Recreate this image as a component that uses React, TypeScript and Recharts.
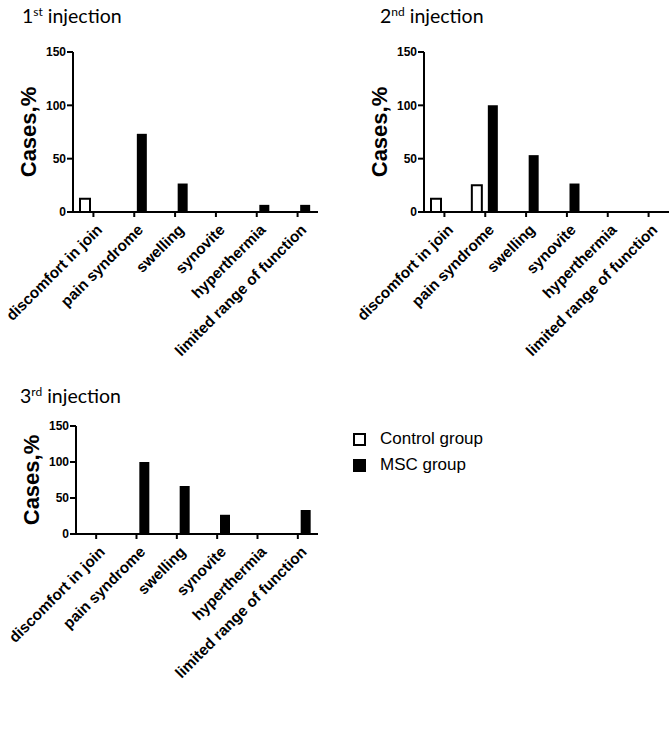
import React from "react";
import { Bar, BarChart, Legend, XAxis, YAxis } from "recharts";

const categories = [
  "discomfort in join",
  "pain syndrome",
  "swelling",
  "synovite",
  "hyperthermia",
  "limited range of function",
];

const control1 = [12.5, 0, 0, 0, 0, 0];
const msc1 = [0, 73.3, 26.7, 0, 6.7, 6.7];

const control2 = [12.5, 25, 0, 0, 0, 0];
const msc2 = [0, 100, 53.3, 26.7, 0, 0];

const control3 = [0, 0, 0, 0, 0, 0];
const msc3 = [0, 100, 66.7, 26.7, 0, 33.3];

const yTicks = [0, 50, 100, 150];

const AXIS_FONT = "Liberation Sans, Arial, sans-serif";
const TITLE_FONT = "Lato, Open Sans, sans-serif";

function rows(control: number[], msc: number[]) {
  return categories.map((name, i) => ({ name, control: control[i], msc: msc[i] }));
}

function SlantTick({ x, y, payload }: any) {
  return (
    <g transform={`translate(${x + 6},${y + 8})`}>
      <text
        transform="rotate(-45)"
        textAnchor="end"
        dy="0.35em"
        style={{ fontFamily: AXIS_FONT, fontWeight: 700, fontSize: 15.3 }}
        fill="#000"
      >
        {payload.value}
      </text>
    </g>
  );
}

function YTitle({ viewBox }: any) {
  const cx = viewBox.x + viewBox.width - 45;
  const cy = viewBox.y + viewBox.height / 2;
  return (
    <text
      x={cx}
      y={cy}
      transform={`rotate(-90 ${cx} ${cy})`}
      textAnchor="middle"
      dominantBaseline="central"
      style={{ fontFamily: AXIS_FONT, fontWeight: 700, fontSize: 22 }}
      fill="#000"
    >
      Cases,%
    </text>
  );
}

function GroupLegend() {
  const items = [
    { label: "Control group", fill: "#fff" },
    { label: "MSC group", fill: "#000" },
  ];
  return (
    <div style={{ fontFamily: AXIS_FONT, fontSize: 17, color: "#000" }}>
      {items.map((it) => (
        <div key={it.label} style={{ display: "flex", alignItems: "center", height: 26 }}>
          <svg width={13} height={13} style={{ marginRight: 14 }}>
            <rect x={1} y={1} width={11} height={11} fill={it.fill} stroke="#000" strokeWidth={2} />
          </svg>
          <span>{it.label}</span>
        </div>
      ))}
    </div>
  );
}

interface PanelProps {
  left: number;
  top: number;
  width: number;
  height: number;
  margin: { top: number; right: number; bottom: number; left: number };
  data: { name: string; control: number; msc: number }[];
  xHeight: number;
  withLegend?: boolean;
}

function Panel({ left, top, width, height, margin, data, xHeight, withLegend }: PanelProps) {
  return (
    <div style={{ position: "absolute", left, top, width, height }}>
      <BarChart width={width} height={height} data={data} margin={margin} barSize={10} barGap={6}>
        <XAxis
          dataKey="name"
          interval={0}
          height={xHeight}
          tick={<SlantTick />}
          tickSize={5}
          tickMargin={2}
          axisLine={{ stroke: "#000", strokeWidth: 2 }}
          tickLine={{ stroke: "#000", strokeWidth: 2 }}
        />
        <YAxis
          width={60}
          domain={[0, 150]}
          ticks={yTicks}
          tickSize={6}
          tickMargin={1}
          axisLine={{ stroke: "#000", strokeWidth: 2 }}
          tickLine={{ stroke: "#000", strokeWidth: 2 }}
          tick={{ fontFamily: AXIS_FONT, fontWeight: 700, fontSize: 12, fill: "#000" }}
          label={<YTitle />}
        />
        {withLegend && (
          <Legend
            content={<GroupLegend />}
            layout="vertical"
            wrapperStyle={{ position: "absolute", left: 353, top: 46, width: 200 }}
          />
        )}
        <Bar dataKey="control" name="Control group" fill="#fff" stroke="#000" strokeWidth={2} isAnimationActive={false} />
        <Bar dataKey="msc" name="MSC group" fill="#000" isAnimationActive={false} />
      </BarChart>
    </div>
  );
}

function Title({ left, top, num, sup }: { left: number; top: number; num: string; sup: string }) {
  return (
    <div style={{ position: "absolute", left, top, fontFamily: TITLE_FONT, fontSize: 19.5, color: "#000", lineHeight: 1 }}>
      {num}
      <sup style={{ fontSize: 12, verticalAlign: "top", lineHeight: 1 }}>{sup}</sup> injection
    </div>
  );
}

export default function App() {
  return (
    <div style={{ position: "absolute", left: 0, top: 0, width: 669, height: 734, background: "#fff" }}>
      <Title left={22} top={6} num="1" sup="st" />
      <Title left={380} top={6} num="2" sup="nd" />
      <Title left={20} top={386} num="3" sup="rd" />
      <Panel
        left={0}
        top={0}
        width={330}
        height={370}
        margin={{ top: 52, right: 12, bottom: 8, left: 13 }}
        data={rows(control1, msc1)}
        xHeight={150}
      />
      <Panel
        left={340}
        top={0}
        width={329}
        height={370}
        margin={{ top: 52, right: 0, bottom: 8, left: 24 }}
        data={rows(control2, msc2)}
        xHeight={150}
      />
      <Panel
        left={0}
        top={380}
        width={669}
        height={354}
        margin={{ top: 46, right: 351, bottom: 8, left: 16 }}
        data={rows(control3, msc3)}
        xHeight={140}
        withLegend
      />
    </div>
  );
}
